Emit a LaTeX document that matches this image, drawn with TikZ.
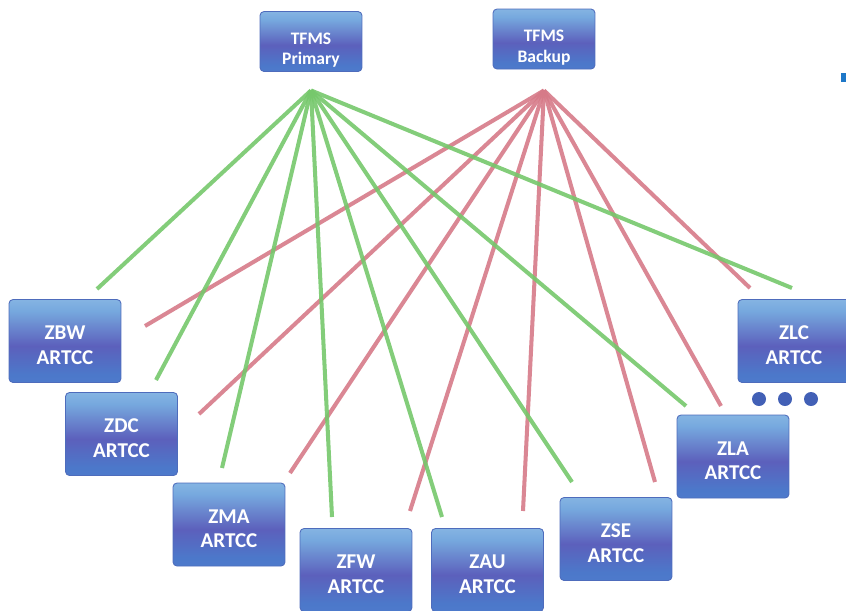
\documentclass[tikz,border=0pt]{standalone}
\usepackage{fontspec}
\setmainfont{Carlito}
\usetikzlibrary{positioning}

\definecolor{boxtop}{RGB}{184,222,242}
\definecolor{boxhigh}{RGB}{118,168,222}
\definecolor{boxmid}{RGB}{92,96,188}
\definecolor{boxlow}{RGB}{76,120,202}
\definecolor{boxbot}{RGB}{84,132,210}
\definecolor{boxline}{RGB}{78,108,188}
\definecolor{primgreen}{RGB}{118,200,108}
\definecolor{backred}{RGB}{214,122,136}
\definecolor{dotblue}{RGB}{66,96,182}
\definecolor{markblue}{RGB}{30,120,200}

\pgfdeclareverticalshading{artccshade}{100bp}{color(0bp)=(boxbot); color(30bp)=(boxlow); color(47bp)=(boxmid); color(68bp)=(boxhigh); color(100bp)=(boxtop)}

% two centred lines, set a little below the middle of the box
\newcommand{\twolines}[3]{\raisebox{#1}[\height][\depth]{\begin{tabular}{@{}c@{}}#2\\#3\end{tabular}}}

\tikzstyle{center} = [rectangle, rounded corners=0.08cm, minimum width=2.24cm, minimum height=1.66cm, inner sep=0pt, draw=boxline, line width=0.5pt, shading=artccshade, text=white, font=\bfseries\fontsize{12}{14.2}\selectfont]
\tikzstyle{tfms} = [center, minimum width=2.04cm, minimum height=1.2cm, font=\bfseries\fontsize{10}{11.6}\selectfont]
\tikzstyle{greenline} = [line width=2.3pt, primgreen, opacity=0.9]
\tikzstyle{redline} = [line width=2.3pt, backred, opacity=0.9]

\begin{document}
\begin{tikzpicture}[x=0.02cm, y=-0.02cm]
 \useasboundingbox (0,0) rectangle (846,610);
 \clip (0,0) rectangle (846,610);

 \node (primary) [tfms] at (311,41.5) {\twolines{-5pt}{TFMS}{Primary}};
 \node (backup) [tfms] at (544,39) {\twolines{-5pt}{TFMS}{Backup}};

 \node (zbw) [center] at (65,341) {\twolines{-3.4pt}{ZBW}{ARTCC}};
 \node (zdc) [center] at (121.5,434) {\twolines{-3.4pt}{ZDC}{ARTCC}};
 \node (zma) [center] at (229,524.5) {\twolines{-3.4pt}{ZMA}{ARTCC}};
 \node (zfw) [center] at (356,570) {\twolines{-3.4pt}{ZFW}{ARTCC}};
 \node (zau) [center] at (487.5,570) {\twolines{-3.4pt}{ZAU}{ARTCC}};
 \node (zse) [center] at (616,539) {\twolines{-3.4pt}{ZSE}{ARTCC}};
 \node (zla) [center] at (733,456.5) {\twolines{-3.4pt}{ZLA}{ARTCC}};
 \node (zlc) [center] at (794,341) {\twolines{-3.4pt}{ZLC}{ARTCC}};

 % fan-out points under the two TFMS boxes
 \coordinate (primhub) at ([shift={(0,18.5)}]primary.south);
 \coordinate (backhub) at ([shift={(0,21)}]backup.south);

 \draw [redline] (backhub) -- ([shift={(80,-15)}]zbw.center);
 \draw [redline] (backhub) -- ([shift={(77.5,-20)}]zdc.center);
 \draw [redline] (backhub) -- ([shift={(61,-51.5)}]zma.center);
 \draw [redline] (backhub) -- ([shift={(54,-59)}]zfw.center);
 \draw [redline] (backhub) -- ([shift={(35.5,-59)}]zau.center);
 \draw [redline] (backhub) -- ([shift={(39,-57)}]zse.center);
 \draw [redline] (backhub) -- ([shift={(-12,-50.5)}]zla.center);
 \draw [redline] (backhub) -- ([shift={(-44,-53)}]zlc.center);

 \draw [greenline] (primhub) -- ([shift={(32,-52)}]zbw.center);
 \draw [greenline] (primhub) -- ([shift={(34.5,-54)}]zdc.center);
 \draw [greenline] (primhub) -- ([shift={(-7,-56.5)}]zma.center);
 \draw [greenline] (primhub) -- ([shift={(-24,-53)}]zfw.center);
 \draw [greenline] (primhub) -- ([shift={(-45.5,-53)}]zau.center);
 \draw [greenline] (primhub) -- ([shift={(-44,-57)}]zse.center);
 \draw [greenline] (primhub) -- ([shift={(-47,-50.5)}]zla.center);
 \draw [greenline] (primhub) -- ([shift={(-2,-53)}]zlc.center);

 % more centres follow
 \fill [dotblue] (759,399) circle (7) (785,399) circle (7) (811,399) circle (7);
 \fill [markblue] (841,73) rectangle (848,82);
\end{tikzpicture}
\end{document}
